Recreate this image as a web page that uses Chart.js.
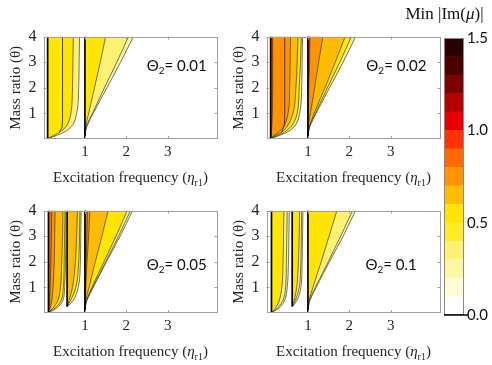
<!DOCTYPE html>
<html>
<head>
<meta charset="utf-8">
<script src="https://cdn.jsdelivr.net/npm/chart.js@4.4.0/dist/chart.umd.min.js"></script>
<style>
  body { margin: 0; background: #fff; }
  #wrap { position: relative; width: 492px; height: 365px; overflow: hidden; }
  canvas { position: absolute; }
</style>
</head>
<body>
<div id="wrap">
  <canvas id="p1" width="225" height="172" style="left:0;top:20px"></canvas>
  <canvas id="p2" width="225" height="172" style="left:223px;top:20px"></canvas>
  <canvas id="p3" width="225" height="172" style="left:0;top:194px"></canvas>
  <canvas id="p4" width="225" height="172" style="left:223px;top:194px"></canvas>
  <canvas id="cbar" width="92" height="330" style="left:400px;top:0"></canvas>
</div>
<script>
// mass ratio samples shared by every boundary curve
const theta = [0.02, 0.1, 0.25, 0.5, 1, 2, 3, 4];
const xTickValues = [1, 2, 3];
const yTickValues = [1, 2, 3, 4];

// colour of each 0.1 step of Min |Im(mu)|, from 0.0 up to 1.5
const colorLevels = [0, 0.1, 0.2, 0.3, 0.4, 0.5, 0.6, 0.7, 0.8, 0.9, 1.0, 1.1, 1.2, 1.3, 1.4, 1.5];
const levelColors = ['#ffffff', '#fffbd2', '#fff6a4', '#fff172', '#ffec26', '#ffe500', '#ffbb00',
  '#ff9400', '#ff6a00', '#ff3300', '#e60000', '#b30000', '#800000', '#4d0000', '#2b0000'];
const colorbarTicks = [0, 0.5, 1.0, 1.5];

// each band: left edge (x at theta), then [level, right edge] from outer to inner
const bands001 = [
  { left: [0.1, 0.1, 0.1, 0.1, 0.1, 0.1, 0.1, 0.1], edges: [
    [3, [0.12, 0.25, 0.48, 0.68, 0.8, 0.85, 0.86, 0.87]],
    [5, [0.1, 0.2, 0.38, 0.55, 0.66, 0.7, 0.71, 0.72]]] },
  { left: [null, null, 0.38, 0.45, 0.46, 0.46, 0.46, 0.46], edges: [] },
  { left: [1, 1, 1, 1, 1, 1, 1, 1], edges: [
    [2, [1, 1, 1.01, 1.05, 1.2, 1.53, 1.86, 2.17]],
    [3, [1, 1, 1.01, 1.04, 1.18, 1.47, 1.77, 2.05]],
    [5, [1, 1, 1, 1.02, 1.09, 1.23, 1.37, 1.5]]] }
];

const bands002 = [
  { left: [0.1, 0.1, 0.1, 0.1, 0.1, 0.1, 0.1, 0.1], edges: [
    [3, [0.12, 0.25, 0.48, 0.68, 0.8, 0.85, 0.86, 0.87]],
    [5, [0.11, 0.22, 0.42, 0.6, 0.74, 0.79, 0.82, 0.84]],
    [6, [0.1, 0.18, 0.35, 0.5, 0.64, 0.71, 0.74, 0.76]],
    [7, [0.1, 0.15, 0.28, 0.42, 0.52, 0.56, 0.57, 0.58]],
    [9, [0.1, 0.11, 0.12, 0.13, 0.14, 0.15, 0.15, 0.15]]] },
  { left: [null, null, 0.36, 0.42, 0.44, 0.44, 0.44, 0.44], edges: [] },
  { left: [1, 1, 1, 1, 1, 1, 1, 1], edges: [
    [3, [1, 1, 1.01, 1.05, 1.2, 1.52, 1.85, 2.15]],
    [5, [1, 1, 1.01, 1.04, 1.18, 1.47, 1.77, 2.05]],
    [6, [1, 1, 1.01, 1.04, 1.15, 1.41, 1.66, 1.9]],
    [7, [1, 1, 1, 1.01, 1.06, 1.16, 1.26, 1.36]],
    [9, [1, 1, 1, 1, 1.01, 1.02, 1.04, 1.05]]] }
];

const bands005 = [
  { left: [0.12, 0.12, 0.12, 0.12, 0.12, 0.12, 0.12, 0.12], edges: [
    [3, [0.13, 0.23, 0.36, 0.47, 0.51, 0.53, 0.54, 0.54]],
    [5, [0.12, 0.2, 0.32, 0.43, 0.48, 0.5, 0.51, 0.52]],
    [6, [0.12, 0.17, 0.26, 0.35, 0.41, 0.44, 0.46, 0.47]],
    [7, [0.12, 0.14, 0.17, 0.2, 0.23, 0.26, 0.27, 0.28]],
    [8, [0.12, 0.13, 0.14, 0.15, 0.16, 0.18, 0.19, 0.2]]] },
  { left: [null, null, 0.57, 0.57, 0.57, 0.57, 0.57, 0.57], edges: [
    [3, [null, null, 0.58, 0.72, 0.84, 0.89, 0.9, 0.91]],
    [5, [null, null, 0.57, 0.66, 0.78, 0.85, 0.87, 0.88]],
    [6, [null, null, 0.57, 0.62, 0.7, 0.77, 0.8, 0.82]]] },
  { left: [1, 1, 1, 1, 1, 1, 1, 1], edges: [
    [2, [1, 1, 1.01, 1.05, 1.2, 1.52, 1.85, 2.15]],
    [3, [1, 1, 1.01, 1.04, 1.19, 1.5, 1.81, 2.1]],
    [5, [1, 1, 1.01, 1.04, 1.17, 1.46, 1.75, 2.02]],
    [6, [1, 1, 1.01, 1.02, 1.1, 1.25, 1.41, 1.56]],
    [7, [1, 1, 1, 1.01, 1.02, 1.05, 1.09, 1.12]],
    [8, [1, 1, 1, 1, 1.01, 1.03, 1.05, 1.06]]] }
];

const bands01 = [
  { left: [0.12, 0.12, 0.12, 0.12, 0.12, 0.12, 0.12, 0.12], edges: [
    [2, [0.13, 0.22, 0.34, 0.44, 0.5, 0.53, 0.54, 0.55]],
    [3, [0.12, 0.2, 0.3, 0.4, 0.46, 0.48, 0.49, 0.5]],
    [5, [0.12, 0.17, 0.24, 0.31, 0.37, 0.4, 0.41, 0.42]]] },
  { left: [null, null, 0.62, 0.62, 0.62, 0.62, 0.62, 0.62], edges: [
    [2, [null, null, 0.63, 0.74, 0.83, 0.86, 0.87, 0.88]],
    [3, [null, null, 0.62, 0.7, 0.79, 0.83, 0.84, 0.85]],
    [5, [null, null, 0.62, 0.67, 0.73, 0.77, 0.79, 0.8]]] },
  { left: [1, 1, 1, 1, 1, 1, 1, 1], edges: [
    [2, [1, 1, 1.01, 1.05, 1.2, 1.52, 1.85, 2.15]],
    [3, [1, 1, 1.01, 1.04, 1.18, 1.49, 1.79, 2.08]],
    [5, [1, 1, 1.01, 1.03, 1.12, 1.32, 1.51, 1.7]]] }
];

const serif = '"Liberation Serif", "Times New Roman", serif';
const sans = 'Lato, "Open Sans", sans-serif';

const toPoints = xs => xs.map((x, i) => ({ x: x, y: theta[i] }));

function decor(label, lx, ly) {
  return {
    id: 'decor',
    afterDraw(chart) {
      const { ctx, chartArea: a, scales: { x, y } } = chart;
      ctx.save();
      ctx.strokeStyle = '#a0a0a0';
      ctx.lineWidth = 1;
      ctx.strokeRect(Math.round(a.left) + 0.5, Math.round(a.top) + 0.5, Math.round(a.width) - 1, Math.round(a.height) - 1);
      ctx.beginPath();
      xTickValues.forEach(v => {
        const px = Math.round(x.getPixelForValue(v)) + 0.5;
        ctx.moveTo(px, a.bottom); ctx.lineTo(px, a.bottom - 3);
        ctx.moveTo(px, a.top); ctx.lineTo(px, a.top + 3);
      });
      yTickValues.forEach(v => {
        const py = Math.round(y.getPixelForValue(v)) + 0.5;
        ctx.moveTo(a.left, py); ctx.lineTo(a.left + 3, py);
        ctx.moveTo(a.right, py); ctx.lineTo(a.right - 3, py);
      });
      ctx.stroke();

      // Theta_2 label
      ctx.fillStyle = '#111';
      ctx.textBaseline = 'alphabetic';
      let px = x.getPixelForValue(lx);
      const base = y.getPixelForValue(ly) + 5;
      ctx.font = '15px ' + sans;
      ctx.fillText('Θ', px, base);
      px += ctx.measureText('Θ').width;
      ctx.font = '10px ' + sans;
      ctx.fillText('2', px, base + 3);
      px += ctx.measureText('2').width;
      ctx.font = '15px ' + sans;
      ctx.fillText('= ' + label, px, base);

      // x axis title with subscript
      const parts = [
        ['Excitation frequency (', '15px ' + serif, 0],
        ['η', 'italic 15px ' + serif, 0],
        ['r1', '10px ' + serif, 4],
        [')', '15px ' + serif, 0]
      ];
      let total = 0;
      parts.forEach(p => { ctx.font = p[1]; total += ctx.measureText(p[0]).width; });
      let tx = (a.left + a.right) / 2 - total / 2;
      const tb = a.bottom + 43;
      ctx.fillStyle = '#262626';
      parts.forEach(p => {
        ctx.font = p[1];
        ctx.fillText(p[0], tx, tb + p[2]);
        tx += ctx.measureText(p[0]).width;
      });
      ctx.restore();
    }
  };
}

function makePanel(id, bands, label, lx, ly) {
  const datasets = [{ data: [], fill: false, borderColor: 'rgba(0,0,0,0)' }];
  bands.forEach(band => {
    const leftIndex = datasets.length;
    // a band with no fill of its own is only a thin dividing curve
    const plain = band.edges.length === 0;
    datasets.push({ data: toPoints(band.left), borderColor: plain ? '#2a2a2a' : '#000',
      borderWidth: plain ? 0.9 : 1.7, fill: false, order: 0 });
    band.edges.forEach(([level, xs]) => {
      datasets.push({ data: toPoints(xs), borderColor: 'rgba(0,0,0,0)', borderWidth: 0,
        backgroundColor: levelColors[level], fill: leftIndex, order: 20 - level });
      datasets.push({ data: toPoints(xs), borderColor: '#3a3a3a', borderWidth: 0.7, fill: false, order: 0 });
    });
  });

  return new Chart(document.getElementById(id), {
    type: 'line',
    data: { datasets: datasets },
    options: {
      indexAxis: 'y',
      animation: false,
      responsive: false,
      layout: { padding: { top: 15, right: 7.5, left: 0, bottom: 0 } },
      elements: { point: { radius: 0 }, line: { cubicInterpolationMode: 'monotone' } },
      plugins: { legend: { display: false }, tooltip: { enabled: false } },
      scales: {
        x: {
          type: 'linear', min: 0, max: 4.2,
          afterBuildTicks: s => { s.ticks = xTickValues.map(v => ({ value: v })); },
          afterFit: s => { s.height = 53; },
          grid: { display: false, drawTicks: false },
          border: { display: false },
          ticks: { font: { family: serif, size: 15 }, color: '#262626', padding: 4, maxRotation: 0 }
        },
        y: {
          type: 'linear', min: 0, max: 4,
          afterBuildTicks: s => { s.ticks = yTickValues.map(v => ({ value: v })); },
          afterFit: s => { s.width = 43.5; },
          grid: { display: false, drawTicks: false },
          border: { display: false },
          ticks: { font: { family: serif, size: 16 }, color: '#262626', padding: 7 },
          title: { display: true, text: 'Mass ratio (θ)', font: { family: serif, size: 15 },
            color: '#262626', padding: { top: 7, bottom: 0 } }
        }
      }
    },
    plugins: [decor(label, lx, ly)]
  });
}

makePanel('p1', bands001, '0.01', 2.49, 2.85);
makePanel('p2', bands002, '0.02', 2.41, 2.85);
makePanel('p3', bands005, '0.05', 2.49, 1.88);
makePanel('p4', bands01, '0.1', 2.39, 1.88);

// colour bar
const cbarFrame = {
  id: 'cbarFrame',
  afterDraw(chart) {
    const { ctx, chartArea: a } = chart;
    ctx.save();
    ctx.strokeStyle = '#8a8a8a';
    ctx.lineWidth = 1;
    ctx.strokeRect(Math.round(a.left) + 0.5, Math.round(a.top) + 0.5, Math.round(a.width) - 1, Math.round(a.height) - 1);
    ctx.strokeStyle = '#000';
    ctx.lineWidth = 1.5;
    ctx.beginPath();
    ctx.moveTo(a.left, a.bottom);
    ctx.lineTo(a.right + 4, a.bottom);
    ctx.stroke();

    // title "Min |Im(μ)|" with italic mu
    const parts = [['Min |Im(', '17px ' + serif], ['μ', 'italic 17px ' + serif], [')|', '17px ' + serif]];
    let total = 0;
    parts.forEach(p => { ctx.font = p[1]; total += ctx.measureText(p[0]).width; });
    let tx = a.left + 0.5 - total / 2;
    ctx.fillStyle = '#111';
    ctx.textBaseline = 'middle';
    parts.forEach(p => {
      ctx.font = p[1];
      ctx.fillText(p[0], tx, 15);
      tx += ctx.measureText(p[0]).width;
    });
    ctx.restore();
  }
};

new Chart(document.getElementById('cbar'), {
  type: 'bar',
  data: {
    labels: [''],
    datasets: levelColors.map((c, i) => ({
      data: [colorLevels[i + 1] - colorLevels[i]],
      backgroundColor: c, borderWidth: 0, barPercentage: 1, categoryPercentage: 1
    }))
  },
  options: {
    animation: false,
    responsive: false,
    layout: { padding: { top: 38, left: 44, right: 0, bottom: 15 } },
    plugins: { legend: { display: false }, tooltip: { enabled: false } },
    scales: {
      x: { display: false, stacked: true },
      y: {
        stacked: true, position: 'right', min: 0, max: 1.5,
        afterBuildTicks: s => { s.ticks = colorbarTicks.map(v => ({ value: v })); },
        afterFit: s => { s.width = 28; },
        grid: { display: false, drawTicks: false },
        border: { display: false },
        ticks: { font: { family: sans, size: 15 }, color: '#111', padding: 3, callback: v => v.toFixed(1) }
      }
    }
  },
  plugins: [cbarFrame]
});
</script>
</body>
</html>
